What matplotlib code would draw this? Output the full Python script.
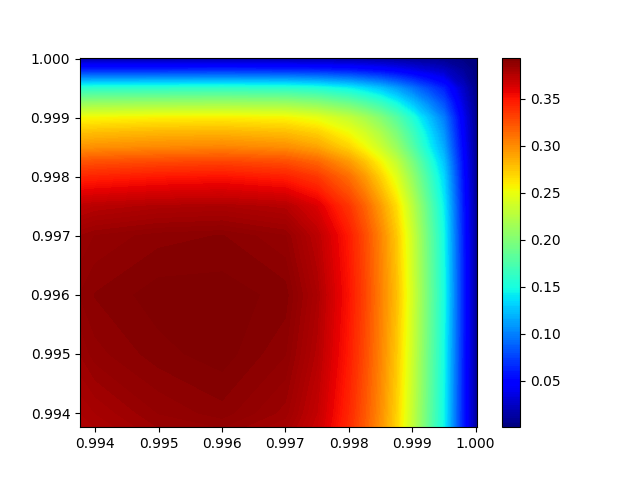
import numpy as np
import matplotlib
matplotlib.use('Agg')
import matplotlib.pyplot as plt

x = [0.99376, 0.994, 0.995, 0.996, 0.997, 0.9975, 0.998, 0.99825, 0.9985, 0.99875, 0.999, 0.99925, 0.9995, 0.9998, 1.00002]
y = [0.99376, 0.994, 0.995, 0.996, 0.997, 0.9975, 0.998, 0.99825, 0.9985, 0.99875, 0.999, 0.99925, 0.9995, 0.9998, 1.00002]

# values, bottom row first
z = np.array([
    [.376, .378, .384, .386, .380, .368, .340, .320, .297, .270, .230, .186, .144, .061, .008],
    [.378, .380, .386, .389, .383, .370, .342, .322, .299, .271, .231, .187, .145, .061, .008],
    [.384, .387, .391, .393, .388, .375, .347, .327, .303, .275, .235, .190, .147, .062, .008],
    [.388, .390, .393, .393, .391, .378, .350, .330, .305, .279, .238, .193, .149, .063, .008],
    [.384, .386, .389, .390, .386, .373, .347, .327, .303, .275, .235, .190, .147, .062, .008],
    [.372, .374, .377, .378, .375, .362, .336, .317, .293, .266, .227, .184, .142, .060, .008],
    [.343, .344, .348, .350, .345, .335, .312, .294, .271, .245, .209, .171, .133, .056, .007],
    [.323, .325, .328, .330, .326, .316, .294, .277, .256, .231, .197, .161, .125, .053, .007],
    [.296, .298, .301, .303, .299, .290, .270, .254, .235, .211, .180, .147, .115, .049, .006],
    [.277, .279, .282, .283, .279, .271, .252, .238, .220, .197, .168, .138, .107, .045, .006],
    [.254, .255, .258, .259, .256, .248, .231, .218, .201, .180, .154, .126, .098, .042, .005],
    [.208, .209, .211, .212, .210, .203, .189, .178, .165, .147, .125, .103, .080, .034, .004],
    [.158, .159, .160, .161, .159, .154, .144, .135, .125, .111, .095, .078, .061, .026, .003],
    [.065, .066, .066, .067, .066, .064, .060, .056, .052, .046, .039, .032, .025, .011, .001],
    [.012, .012, .012, .012, .012, .011, .011, .010, .009, .008, .007, .006, .004, .002, .001],
])

cbar_ticks = [0.05, 0.10, 0.15, 0.20, 0.25, 0.30, 0.35]

fig = plt.figure(figsize=(6.4, 4.8), dpi=100)
levels = np.linspace(0.0005, 0.3938, 200)
cs = plt.contourf(x, y, z, levels=levels, cmap='jet')
plt.xlim(0.99376, 1.00002)
plt.ylim(0.99376, 1.00002)
plt.colorbar(cs, ticks=cbar_ticks)
plt.savefig('out.png', dpi=100)
